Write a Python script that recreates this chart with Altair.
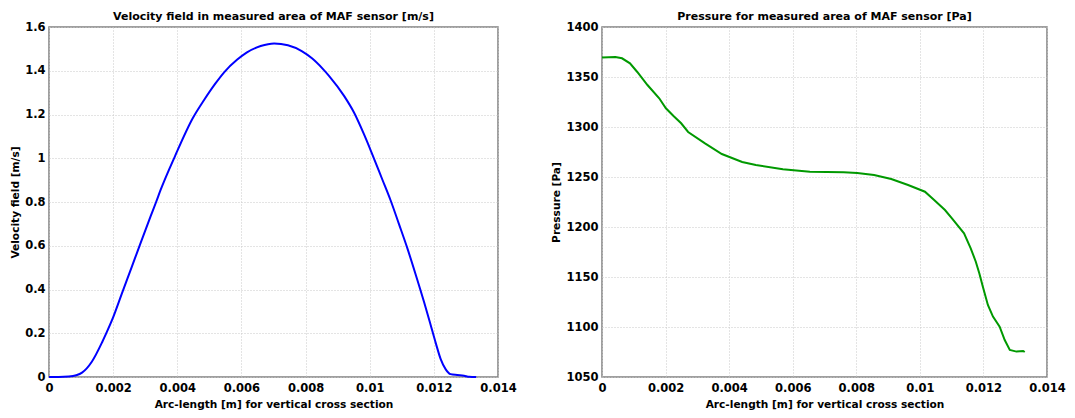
import altair as alt
import pandas as pd

# Velocity profile (Arc-length [m], Velocity [m/s])
vel_x = [0.0, 0.0003, 0.00062, 0.00085, 0.00103, 0.00134, 0.00166, 0.00178, 0.00197, 0.00228,
         0.00259, 0.0028, 0.00317, 0.00334, 0.00348, 0.00393, 0.00449, 0.00483, 0.00519, 0.00546,
         0.00587, 0.00616, 0.0066, 0.00702, 0.00745, 0.00788, 0.0082, 0.00853, 0.00873, 0.0092,
         0.00951, 0.00982, 0.01008, 0.01039, 0.01065, 0.01091, 0.01117, 0.01143, 0.01169, 0.0119,
         0.01206, 0.01221, 0.01237, 0.01252, 0.01273, 0.01294, 0.0131, 0.01332]
vel_y = [0.0, 0.0, 0.002, 0.008, 0.02, 0.071, 0.16, 0.198, 0.262, 0.385,
         0.507, 0.59, 0.735, 0.8, 0.855, 1.01, 1.185, 1.265, 1.342, 1.393,
         1.451, 1.483, 1.513, 1.525, 1.517, 1.49, 1.457, 1.41, 1.377, 1.285,
         1.209, 1.11, 1.018, 0.904, 0.808, 0.70, 0.59, 0.47, 0.345, 0.238,
         0.155, 0.083, 0.035, 0.013, 0.009, 0.006, 0.001, 0.0]

# Pressure profile (Arc-length [m], Pressure [Pa])
pre_x = [0.0, 0.00042, 0.00063, 0.00088, 0.00111, 0.00143, 0.0018, 0.00201, 0.00225, 0.00249,
         0.00271, 0.00324, 0.00377, 0.00441, 0.00484, 0.00569, 0.00654, 0.0076, 0.00803, 0.00856,
         0.0091, 0.00963, 0.01016, 0.01045, 0.01079, 0.01101, 0.01139, 0.0116, 0.01176, 0.01187,
         0.01198, 0.01214, 0.0123, 0.01251, 0.01267, 0.01283, 0.01304, 0.01325, 0.0133]
pre_y = [1369.4, 1370.0, 1368.7, 1363.7, 1355.0, 1342.0, 1328.7, 1318.7, 1311.0, 1303.7,
         1295.0, 1283.7, 1273.0, 1265.0, 1262.0, 1257.7, 1255.3, 1254.7, 1254.0, 1252.0,
         1248.0, 1242.0, 1235.3, 1227.0, 1217.0, 1208.7, 1193.7, 1178.7, 1165.3, 1153.7,
         1140.4, 1122.0, 1110.4, 1100.4, 1087.0, 1077.0, 1075.4, 1076.0, 1075.0]

x_ticks = [0, 0.002, 0.004, 0.006, 0.008, 0.01, 0.012, 0.014]
v_ticks = [0, 0.2, 0.4, 0.6, 0.8, 1.0, 1.2, 1.4, 1.6]
p_ticks = [1050, 1100, 1150, 1200, 1250, 1300, 1350, 1400]

vel_df = pd.DataFrame({"s": vel_x, "v": vel_y})
pre_df = pd.DataFrame({"s": pre_x, "p": pre_y})

x_title = "Arc-length [m] for vertical cross section"

left = alt.Chart(vel_df, title="Velocity field in measured area of MAF sensor [m/s]").mark_line(
    color="#0000ff", strokeWidth=2, interpolate="monotone"
).encode(
    x=alt.X("s:Q", scale=alt.Scale(domain=[0, 0.014], nice=False),
            axis=alt.Axis(values=x_ticks, format="~g", title=x_title)),
    y=alt.Y("v:Q", scale=alt.Scale(domain=[0, 1.6], nice=False),
            axis=alt.Axis(values=v_ticks, format="~g", title="Velocity field [m/s]")),
    order="s:Q",
).properties(width=449, height=350)

right = alt.Chart(pre_df, title="Pressure for measured area of MAF sensor [Pa]").mark_line(
    color="#009900", strokeWidth=2
).encode(
    x=alt.X("s:Q", scale=alt.Scale(domain=[0, 0.014], nice=False),
            axis=alt.Axis(values=x_ticks, format="~g", title=x_title)),
    y=alt.Y("p:Q", scale=alt.Scale(domain=[1050, 1400], nice=False),
            axis=alt.Axis(values=p_ticks, format="d", title="Pressure [Pa]")),
    order="s:Q",
).properties(width=445, height=350)

chart = alt.hconcat(left, right, spacing=34).properties(
    padding={"left": 1, "top": 2, "right": 0, "bottom": 0}
).configure(
    font="DejaVu Sans"
).configure_view(
    stroke="#808080", strokeWidth=1.5
).configure_axis(
    labelFont="DejaVu Sans", labelFontSize=11.5, labelFontWeight="bold", labelColor="#000",
    titleFont="DejaVu Sans", titleFontSize=10.6, titleFontWeight="bold", titleColor="#000",
    labelPadding=5, titlePadding=6, ticks=False, domain=False,
    grid=True, gridColor="#c8c8c8", gridDash=[1, 2], gridWidth=1,
    labelFlush=False, labelOverlap=False
).configure_axisY(
    labelPadding=4, titlePadding=4
).configure_title(
    font="DejaVu Sans", fontSize=11, fontWeight="bold", color="#000", offset=-1
)

chart.save("out.html", embed_options={"renderer": "svg", "actions": False})
